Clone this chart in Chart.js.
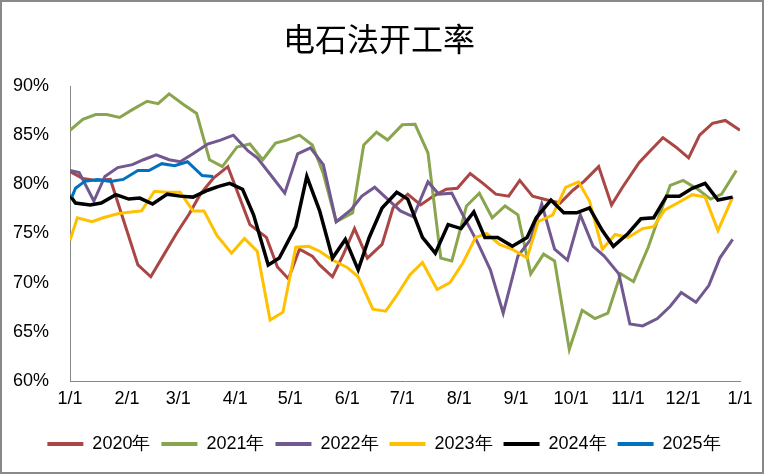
<!DOCTYPE html>
<html>
<head>
<meta charset="utf-8">
<script src="https://cdn.jsdelivr.net/npm/chart.js@4.4.1/dist/chart.umd.min.js"></script>
<style>
  body { margin: 0; background: #fff; }
  #wrap { width: 764px; height: 474px; box-sizing: border-box; border: 2px solid #898989; background: #fff; }
</style>
</head>
<body>
<div id="wrap"><canvas id="chart" width="760" height="470"></canvas></div>
<script>
// x positions are day of year (0 = 1/1), y values are percent
const tickDays = [0, 31, 59, 90, 120, 151, 181, 212, 243, 273, 304, 334, 365]
const tickLabels = ['1/1', '2/1', '3/1', '4/1', '5/1', '6/1', '7/1', '8/1', '9/1', '10/1', '11/1', '12/1', '1/1']

const days2020 = [0,7,14,22,37,44,51,58,65,71,78,86,98,107,113,119,125,132,136,143,149,155,162,170,176,184,191,198,205,211,218,225,232,239,245,252,260,267,274,280,288,295,301,310,316,323,330,337,343,350,357,365]
const rate2020 = [81.3,80.6,80.4,80.5,71.8,70.6,72.8,75.0,77.0,79.0,80.6,81.8,75.9,74.6,71.6,70.4,73.4,72.7,71.8,70.6,72.9,75.5,72.5,73.9,77.6,79.0,77.9,78.8,79.5,79.6,81.1,80.1,79.0,78.8,80.4,78.8,78.4,78.1,79.4,80.3,81.8,77.9,79.7,82.2,83.4,84.75,83.8,82.7,85.0,86.2,86.5,85.5]

const days2021 = [0,7,14,20,27,34,42,48,54,62,69,76,83,91,98,105,112,118,125,132,138,145,154,160,167,173,181,188,195,202,208,216,223,230,237,244,251,258,264,272,279,286,293,300,307,315,321,327,334,342,349,355,363]
const rate2021 = [85.5,86.6,87.1,87.1,86.8,87.6,88.45,88.2,89.2,88.1,87.2,82.5,81.8,83.8,84.1,82.5,84.2,84.5,85.0,84.0,81.1,76.2,77.1,84.0,85.3,84.5,86.05,86.1,83.2,72.5,72.2,77.8,79.1,76.6,77.8,76.9,70.9,72.9,72.2,63.2,67.2,66.35,66.9,70.9,70.1,73.6,76.8,79.9,80.4,79.5,78.5,79.0,81.4]

const days2022 = [0,5,13,19,26,34,40,47,54,60,67,75,82,89,97,102,110,117,124,131,138,145,153,159,166,173,180,187,195,201,208,214,222,229,236,244,251,257,264,271,278,285,291,299,305,312,320,327,333,341,348,354,361]
const rate2022 = [81.4,81.2,78.3,80.8,81.7,82.0,82.5,83.0,82.5,82.3,83.1,84.1,84.5,85.0,83.4,82.7,80.8,79.1,83.1,83.7,82.0,76.2,77.4,78.8,79.7,78.5,77.3,76.7,80.25,79.0,79.1,76.9,74.1,71.3,66.9,72.7,74.4,78.0,73.4,72.3,76.9,73.7,72.7,70.9,65.8,65.6,66.35,67.6,69.0,68.0,69.7,72.5,74.4]

const days2023 = [0,4,12,18,26,32,39,46,53,60,67,73,80,88,95,102,109,116,123,130,136,143,151,157,165,172,178,185,192,200,207,214,221,227,234,241,249,255,263,270,277,283,290,297,304,312,318,324,331,339,346,353,361]
const rate2023 = [74.3,76.6,76.2,76.6,77.0,77.15,77.3,79.3,79.2,79.2,77.3,77.3,74.8,73.0,74.5,73.2,66.2,67.0,73.6,73.7,73.2,72.3,71.55,70.6,67.3,67.1,68.7,70.75,72.05,69.3,70.0,72.0,74.6,75.0,73.9,73.4,72.5,76.2,76.9,79.7,80.25,78.3,73.4,74.9,74.6,75.5,75.7,77.4,78.1,78.95,78.7,75.3,78.7]

const days2024 = [0,3,11,17,25,32,38,45,53,60,67,75,81,87,94,100,108,114,123,129,136,143,150,157,163,170,178,184,192,199,206,213,220,226,233,241,249,254,262,269,276,283,290,296,304,311,318,325,332,339,346,353,361]
const rate2024 = [78.85,78.1,77.9,78.1,78.95,78.5,78.6,78.0,79.0,78.8,78.7,79.4,79.8,80.1,79.5,76.9,71.8,72.5,75.7,80.8,77.3,72.5,74.4,71.3,74.6,77.6,79.2,78.5,74.6,73.0,75.9,75.5,77.2,74.6,74.6,73.7,74.6,76.6,78.4,77.1,77.1,77.6,75.3,73.7,75.0,76.5,76.6,78.8,78.8,79.6,80.1,78.4,78.7]

const days2025 = [1,3,8,15,22,29,37,43,50,57,64,72,78]
const rate2025 = [78.7,79.6,80.3,80.5,80.3,80.5,81.4,81.4,82.1,81.9,82.3,80.9,80.8]

const seriesNames = ['2020年', '2021年', '2022年', '2023年', '2024年', '2025年']
const seriesDays = [days2020, days2021, days2022, days2023, days2024, days2025]
const seriesRates = [rate2020, rate2021, rate2022, rate2023, rate2024, rate2025]
const colors = ['#AA4643', '#89A54E', '#71588F', '#FFC000', '#000000', '#0070C0']

const datasets = seriesNames.map((name, i) => ({
  label: name,
  data: seriesDays[i].map((d, j) => ({ x: d, y: seriesRates[i][j] })),
  borderColor: colors[i],
  backgroundColor: colors[i],
  borderWidth: i === 4 ? 3.5 : 3,
  pointRadius: 0,
  tension: 0,
  fill: false,
  order: seriesNames.length - i
}))

const txt = '"Liberation Sans", Arial, sans-serif'

// nudge legend and title so they sit where the reference has them
const nudge = {
  id: 'nudge',
  afterLayout(chart) {
    const lg = chart.legend
    lg.left += 8; lg.right += 8
    lg.top -= 9; lg.bottom -= 9
    const tb = chart.titleBlock
    if (tb) { tb.left += 3; tb.right += 3 }
  }
}

new Chart(document.getElementById('chart'), {
  type: 'line',
  data: { datasets: datasets },
  plugins: [nudge],
  options: {
    responsive: false,
    animation: false,
    devicePixelRatio: 1,
    layout: { padding: { left: 10, right: 22, top: 0, bottom: 0 } },
    plugins: {
      title: {
        display: true,
        text: '电石法开工率',
        color: '#000',
        font: { family: '"Noto Sans CJK SC"', size: 32, weight: 'normal' },
        padding: { top: 18, bottom: 27.6 }
      },
      legend: {
        position: 'bottom',
        labels: {
          boxWidth: 36,
          boxHeight: 4,
          padding: 11,
          color: '#000',
          font: { family: txt, size: 18 },
          generateLabels: chart => Chart.defaults.plugins.legend.labels.generateLabels(chart)
            .map(l => ({ ...l, lineWidth: 0 }))
            .sort((a, b) => a.datasetIndex - b.datasetIndex)
        }
      },
      tooltip: { enabled: false }
    },
    scales: {
      x: {
        type: 'linear',
        min: 0,
        max: 365,
        afterBuildTicks: axis => { axis.ticks = tickDays.map(v => ({ value: v })) },
        afterFit: axis => { axis.height = 52 },
        ticks: {
          autoSkip: false,
          maxRotation: 0,
          padding: 7,
          color: '#000',
          font: { family: txt, size: 18 },
          callback: (v, i) => tickLabels[i]
        },
        grid: { display: false, drawTicks: false },
        border: { color: '#868686', width: 1 }
      },
      y: {
        min: 60,
        max: 90,
        afterFit: axis => { axis.width = 58 },
        ticks: {
          stepSize: 5,
          padding: 21,
          color: '#000',
          font: { family: txt, size: 18 },
          callback: v => v + '%'
        },
        grid: { display: false, drawTicks: false },
        border: { color: '#868686', width: 1 }
      }
    }
  }
})
</script>
</body>
</html>
